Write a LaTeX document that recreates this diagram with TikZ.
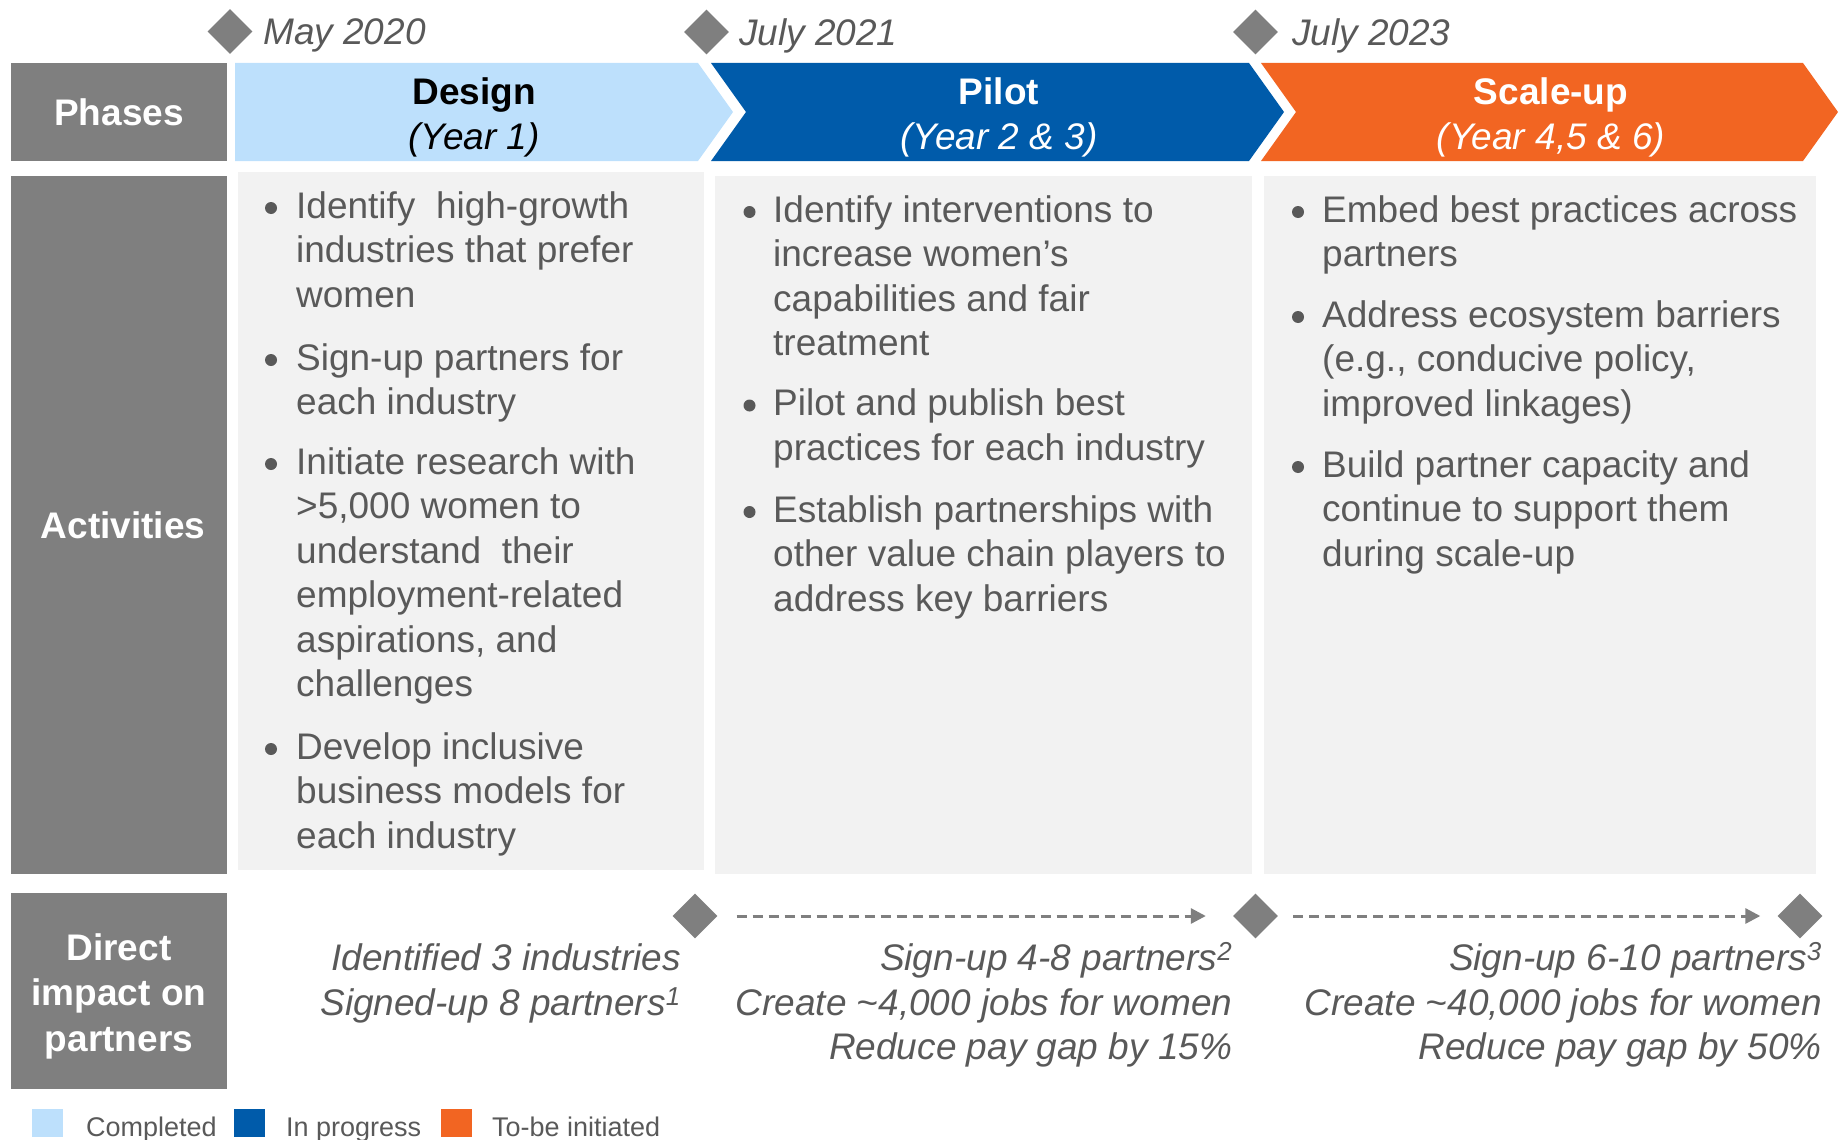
\documentclass[tikz,border=0pt]{standalone}
\usepackage{fontspec}
\setmainfont{Liberation Sans}
\usetikzlibrary{shapes.geometric,arrows.meta}

\definecolor{rowgray}{HTML}{7F7F7F}
\definecolor{panelgray}{HTML}{F2F2F2}
\definecolor{inkgray}{HTML}{595959}
\definecolor{doneblue}{HTML}{BDE0FC}
\definecolor{runblue}{HTML}{005BAA}
\definecolor{nextorange}{HTML}{F26522}

\newcommand{\bigfont}{\fontsize{37}{44.5}\selectfont}
\newcommand{\labelfont}{\fontsize{37}{45.5}\selectfont}
\newcommand{\keyfont}{\fontsize{27}{32}\selectfont}

% one bullet item: name, dot x, text x, first baseline, lines
\newcommand{\bulletrow}[5]{%
  \node[dot] (#1) at (#2,#4-10) {};
  \foreach \lt [count=\k] in {#5}
    \node[bodyline] (#1-\k) at (#3,#4+44.5*\k-44.5) {\lt};
}

\begin{document}
\begin{tikzpicture}[x=1pt,y=-1pt,
  rowlabel/.style={fill=rowgray,text=white,font=\labelfont\bfseries,align=center,inner sep=0,minimum width=216},
  labeltext/.style={text=white,font=\labelfont\bfseries,align=center,inner sep=0},
  panel/.style={fill=panelgray,inner sep=0,minimum height=698},
  phasetitle/.style={anchor=base,inner sep=0,font=\bigfont},
  bodyline/.style={anchor=base west,inner sep=0,text=inkgray,font=\bigfont},
  dot/.style={circle,fill=inkgray,inner sep=0,minimum size=12},
  datetext/.style={anchor=base west,inner sep=0,text=inkgray,font=\bigfont\itshape},
  milestone/.style={diamond,fill=rowgray,inner sep=0,minimum width=45,minimum height=45},
  impacttext/.style={anchor=base east,inner sep=0,text=inkgray,font=\bigfont\itshape},
  flow/.style={draw=rowgray,line width=3,dash pattern=on 10pt off 6pt,-{Triangle[length=15,width=15]}},
  swatch/.style={anchor=north west,inner sep=0,minimum width=31,minimum height=28},
  keytext/.style={anchor=base west,inner sep=0,text=inkgray,font=\keyfont},
]
\useasboundingbox (0,0) rectangle (1839,1140);

% row labels
\node[rowlabel,minimum height=98] (phases) at (119,112) {Phases};
\node[rowlabel,minimum height=698] (activities) at (119,525) {\hspace*{8pt}Activities};
\node[rowlabel,minimum height=196] (impact) at (119,991) {};
\node[labeltext] (impactlabel) at (119,996) {Direct\\impact on\\partners};

% phase chevrons
\fill[doneblue] (235,63) -- (698,63) -- (733,112) -- (698,161) -- (235,161) -- cycle;
\fill[runblue] (711,63) -- (1249,63) -- (1284,112) -- (1249,161) -- (711,161) -- (746,112) -- cycle;
\fill[nextorange] (1261,63) -- (1803,63) -- (1838,112) -- (1803,161) -- (1261,161) -- (1296,112) -- cycle;

\node[phasetitle,text=black] (designname) at (474,104) {\bfseries Design};
\node[phasetitle,text=black] (designyear) at (474,149.5) {\itshape (Year 1)};
\node[phasetitle,text=white] (pilotname) at (999,104) {\bfseries Pilot};
\node[phasetitle,text=white] (pilotyear) at (999,149.5) {\itshape (Year 2 \& 3)};
\node[phasetitle,text=white] (scalename) at (1551,104) {\bfseries Scale-up};
\node[phasetitle,text=white] (scaleyear) at (1551,149.5) {\itshape (Year 4,5 \& 6)};

% start dates
\node[milestone] (m2020) at (230,31.5) {};
\node[datetext] (d2020) at (263,45) {May 2020};
\node[milestone] (m2021) at (706.5,32) {};
\node[datetext] (d2021) at (739,46) {July 2021};
\node[milestone] (m2023) at (1255.5,32) {};
\node[datetext] (d2023) at (1292,46) {July 2023};

% activity panels
\node[panel,minimum width=466] (designpanel) at (470.5,521) {};
\node[panel,minimum width=537] (pilotpanel) at (983.5,525) {};
\node[panel,minimum width=552] (scalepanel) at (1539.5,525) {};

% design activities
\bulletrow{da}{271}{296}{218}{{Identify\ \ high-growth},{industries that prefer},{women}}
\bulletrow{db}{271}{296}{370}{{Sign-up partners for},{each industry}}
\bulletrow{dc}{271}{296}{474}{{Initiate research with},{>5,000 women to},{understand\ \ their},{employment-related},{aspirations, and},{challenges}}
\bulletrow{dd}{271}{296}{759}{{Develop inclusive},{business models for},{each industry}}

% pilot activities
\bulletrow{pa}{749.5}{773}{222}{{Identify interventions to},{increase women’s},{capabilities and fair},{treatment}}
\bulletrow{pb}{749.5}{773}{415.5}{{Pilot and publish best},{practices for each industry}}
\bulletrow{pc}{749.5}{773}{522}{{Establish partnerships with},{other value chain players to},{address key barriers}}

% scale-up activities
\bulletrow{sa}{1298}{1322}{222}{{Embed best practices across},{partners}}
\bulletrow{sb}{1298}{1322}{327}{{Address ecosystem barriers},{(e.g., conducive policy,},{improved linkages)}}
\bulletrow{sc}{1298}{1322}{477}{{Build partner capacity and},{continue to support them},{during scale-up}}

% milestones and targets
\node[milestone] (goal1) at (695,916) {};
\node[milestone] (goal2) at (1255.5,916) {};
\node[milestone] (goal3) at (1800,916) {};
\draw[flow] ([xshift=19]goal1.east) -- ([xshift=-27]goal2.west);
\draw[flow] ([xshift=15]goal2.east) -- ([xshift=-17]goal3.west);

\node[impacttext] (ia) at (681,970) {Identified 3 industries};
\node[impacttext] (ib) at (681,1015) {Signed-up 8 partners\textsuperscript{1}};
\node[impacttext] (pa-t) at (1232.5,970) {Sign-up 4-8 partners\textsuperscript{2}};
\node[impacttext] (pb-t) at (1232.5,1015) {Create \textasciitilde{}4,000 jobs for women};
\node[impacttext] (pc-t) at (1232.5,1059) {Reduce pay gap by 15\%};
\node[impacttext] (sa-t) at (1822,970) {Sign-up 6-10 partners\textsuperscript{3}};
\node[impacttext] (sb-t) at (1822,1015) {Create \textasciitilde{}40,000 jobs for women};
\node[impacttext] (sc-t) at (1822,1059) {Reduce pay gap by 50\%};

% legend
\node[swatch,fill=doneblue] (keydone) at (32,1109) {};
\node[keytext] (keydonetext) at (86,1136) {Completed};
\node[swatch,fill=runblue] (keyrun) at (234,1109) {};
\node[keytext] (keyruntext) at (286,1136) {In progress};
\node[swatch,fill=nextorange] (keynext) at (441,1109) {};
\node[keytext] (keynexttext) at (492,1136) {To-be initiated};
\end{tikzpicture}
\end{document}
